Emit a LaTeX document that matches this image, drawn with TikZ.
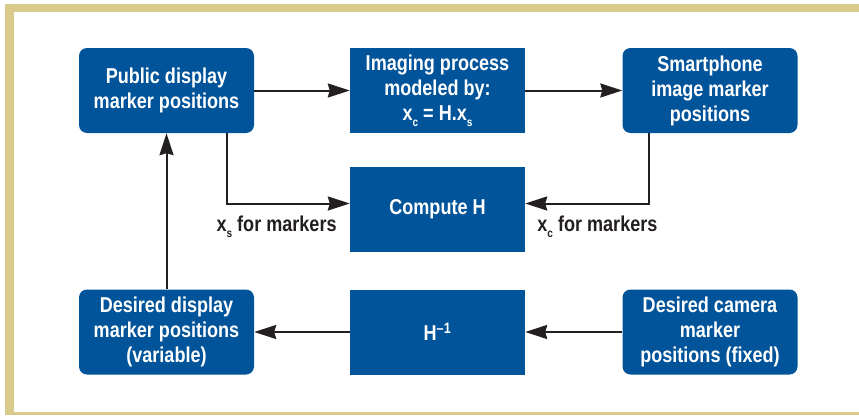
\documentclass[tikz,border=0pt]{standalone}
\usepackage{fontspec}
\setmainfont{Liberation Sans}[FakeStretch=0.84]
\usetikzlibrary{arrows.meta}

\definecolor{boxblue}{RGB}{2,84,154}
\definecolor{frametan}{RGB}{217,201,138}
\definecolor{arrowgray}{RGB}{35,31,32}

\newcommand{\lowsub}[1]{\raisebox{-0.5ex}{\fontsize{12}{12}\selectfont #1}}

\tikzset{
  blk/.style={fill=boxblue, text=white, minimum width=175pt, minimum height=85pt,
    inner sep=0pt, align=center, font=\bfseries\fontsize{21.5}{25}\selectfont},
  rblk/.style={blk, rounded corners=8pt},
  flow/.style={draw=arrowgray, line width=2pt,
    -{Stealth[length=22pt,width=14pt,inset=2pt]}},
  lbl/.style={text=arrowgray, inner sep=0pt, font=\bfseries\fontsize{21.5}{25}\selectfont}
}

\begin{document}
\begin{tikzpicture}[x=1pt,y=-1pt]
\useasboundingbox (0,0) rectangle (859,415);

% frame
\fill [frametan] (5,4) rectangle (859,12);
\fill [frametan] (5,4) rectangle (14,415);
\fill [frametan] (5,411.5) rectangle (859,415);

% top row
\node [rblk] (pub) at (166.5,90.5) {Public display\\marker positions};
\node [blk] (img) at (437.5,90.5) {Imaging process\\modeled by:\\x\lowsub{c} = H.x\lowsub{s}};
\node [rblk] (smart) at (710,90.5) {Smartphone\\image marker\\positions};

% middle
\node [blk] (comp) at (437.5,209.5) {Compute H};

% bottom row
\node [rblk] (disp) at (166.5,332) {Desired display\\marker positions\\(variable)};
\node [blk] (hinv) at (437.5,332) {H\textsuperscript{–1}};
\node [rblk] (cam) at (710,332) {Desired camera\\marker\\positions (fixed)};

\node [lbl, anchor=east] (xs) at ([xshift=-13pt,yshift=-17pt]comp.west) {x\lowsub{s} for markers};
\node [lbl, anchor=west] (xc) at ([xshift=12pt,yshift=-17pt]comp.east) {x\lowsub{c} for markers};

\draw [flow] (pub) -- (img);
\draw [flow] (img) -- (smart);
\draw [flow] ([xshift=60.5pt]pub.south) |- ([yshift=6pt]comp.west);
\draw [flow] ([xshift=-61pt]smart.south) |- ([yshift=6pt]comp.east);
\draw [flow] (cam) -- (hinv);
\draw [flow] (hinv) -- (disp);
\draw [flow] (disp) -- (pub);
\end{tikzpicture}
\end{document}
